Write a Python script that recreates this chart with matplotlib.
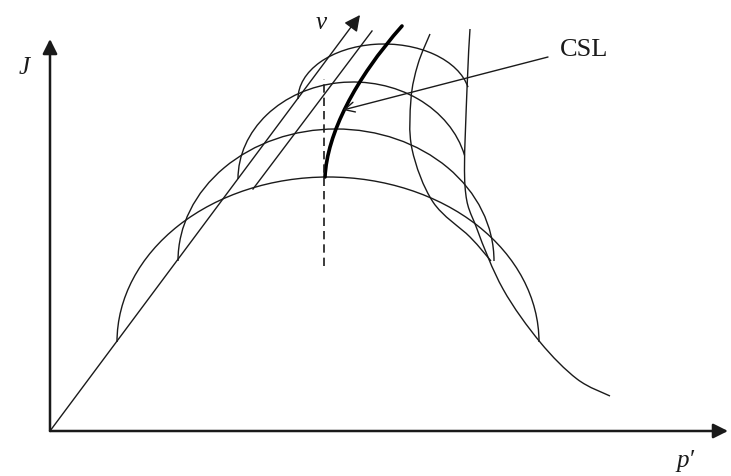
import matplotlib
matplotlib.use("Agg")
import matplotlib.pyplot as plt
from matplotlib.patches import Arc, PathPatch
from matplotlib.path import Path
import numpy as np

plt.rcParams['font.family'] = ['Liberation Serif', 'DejaVu Serif']

# constant-v sections of the state boundary surface (p', J)
sec_centre = [278, 286, 303, 334]
sec_base = [89, 170, 252, 332]
sec_halfwidth = [211, 158, 115, 86]
sec_height = [165, 132, 97, 55]
sec_start_deg = [0, 0, 12, 8]   # upper sections stop where they meet the NCL

v_axis_end = (310, 416)
side_line = [(203, 242), (322, 400)]

# critical state line: end points and bezier handles
csl_ctrl = [(275, 254), (277, 297), (305, 352), (352, 405)]

# curves running along the surface in the v direction
ncl_p = [420, 417, 415, 427, 453, 490, 527, 560]
ncl_J = [402, 342, 245, 202, 142, 89, 52, 35]
mid_p = [380, 368, 361, 362, 383, 420, 441]
mid_J = [397, 367, 332, 282, 229, 194, 170]

dash_p = 274
dash_J = (165, 352)


def smooth_path(xs, ys):
    # catmull-rom through the given points, handed to Path as cubic beziers
    pts = np.column_stack([xs, ys]).astype(float)
    verts = [pts[0]]
    codes = [Path.MOVETO]
    n = len(pts)
    for i in range(n - 1):
        p0 = pts[max(i - 1, 0)]
        p1 = pts[i]
        p2 = pts[i + 1]
        p3 = pts[min(i + 2, n - 1)]
        c1 = p1 + (p2 - p0) / 6.0
        c2 = p2 - (p3 - p1) / 6.0
        verts += [c1, c2, p2]
        codes += [Path.CURVE4] * 3
    return Path(verts, codes)


fig = plt.figure(figsize=(7.31, 4.77), dpi=100)
ax = fig.add_axes([0, 0, 1, 1])
ax.set_xlim(-50, 681)
ax.set_ylim(-45, 432)
ax.axis('off')

ink = '#1a1a1a'

# axes
ax.annotate('', xy=(678, 0), xytext=(0, 0),
            arrowprops=dict(arrowstyle='-|>', color=ink, lw=1.8,
                            mutation_scale=22, shrinkA=0, shrinkB=0))
ax.annotate('', xy=(0, 392), xytext=(0, 0),
            arrowprops=dict(arrowstyle='-|>', color=ink, lw=1.8,
                            mutation_scale=22, shrinkA=0, shrinkB=0))
ax.text(-26, 364, 'J', fontsize=18, style='italic', ha='center', va='center', color=ink)
ax.text(635, -29, "p\u2032", fontsize=18, style='italic', ha='center', va='center', color=ink)

# v axis
ax.annotate('', xy=v_axis_end, xytext=(0, 0),
            arrowprops=dict(arrowstyle='-|>', color=ink, lw=1.0,
                            mutation_scale=24, shrinkA=0, shrinkB=0))
ax.text(271, 409, 'v', fontsize=18, style='italic', ha='center', va='center', color=ink)
ax.plot([side_line[0][0], side_line[1][0]], [side_line[0][1], side_line[1][1]],
        color=ink, lw=1.0)

# sections
for c, b, a, h, t0 in zip(sec_centre, sec_base, sec_halfwidth, sec_height, sec_start_deg):
    ax.add_patch(Arc((c, b), 2 * a, 2 * h, theta1=t0, theta2=180,
                     color=ink, lw=1.0))

ax.add_patch(PathPatch(smooth_path(ncl_p, ncl_J), fill=False, color=ink, lw=1.0))
ax.add_patch(PathPatch(smooth_path(mid_p, mid_J), fill=False, color=ink, lw=1.0))

# CSL
csl_path = Path(csl_ctrl, [Path.MOVETO] + [Path.CURVE4] * 3)
ax.add_patch(PathPatch(csl_path, fill=False, color='black', lw=2.6, capstyle='round'))
ax.plot([dash_p, dash_p], dash_J, color=ink, lw=1.2, ls=(0, (5, 3)))

ax.annotate('', xy=(293, 321), xytext=(498, 374),
            arrowprops=dict(arrowstyle='->', color=ink, lw=1.0,
                            mutation_scale=18, shrinkA=0, shrinkB=0))
ax.text(534, 382, 'CSL', fontsize=19, ha='center', va='center', color=ink)

fig.savefig('out.png', dpi=100)
